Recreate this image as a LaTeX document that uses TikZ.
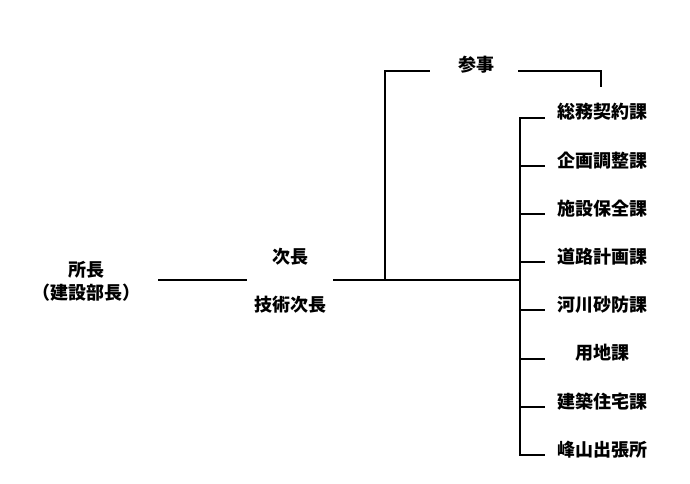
\documentclass[tikz,border=0pt]{standalone}
\usepackage{fontspec}
\setmainfont{Noto Sans CJK JP}
\usetikzlibrary{positioning}

\begin{document}
\begin{tikzpicture}[x=0.75pt,y=-0.75pt,
    post/.style={font=\fontsize{13.5}{17.25}\selectfont\bfseries, inner sep=0pt, align=center},
    line/.style={line width=1.5pt}]
  \useasboundingbox (0,0) rectangle (690,483);
  % top of the chart
  \node[post] (shocho) at (86,281) {所長\\（建設部長）};
  \node[post] (jicho) at (290,257) {次長};
  \node[post] (gijicho) at (290,305) {技術次長};
  \node[post] (sanji) at (476,65) {参事};
  \coordinate (a1) at (158,280);
  \coordinate (a2) at (247,280);
  \coordinate (jout) at (333,280);
  \coordinate (split) at (385,280);
  \coordinate (s1) at (430,71);
  \coordinate (s2) at (518,71);
  \coordinate (s3) at (601,87);
  \coordinate (bus) at (520,280);
  \draw[line] (a1) -- (a2);
  \draw[line] (jout) -- (bus);
  \draw[line] (split) |- (s1);
  \draw[line] (s2) -| (s3);
  % sections
  \foreach \name [count=\i] in {総務契約課,企画調整課,施設保全課,道路計画課,河川砂防課,用地課,建築住宅課,峰山出張所} {
    \node[post] (ka\i) at (602,{112+48.2*(\i-1)}) {\name};
    \coordinate (t\i) at (520,{118+48.1*(\i-1)});
    \draw[line] (t\i) -- ++(25,0);
  }
  \draw[line, line cap=rect] (t1) -- (t8);
\end{tikzpicture}
\end{document}
